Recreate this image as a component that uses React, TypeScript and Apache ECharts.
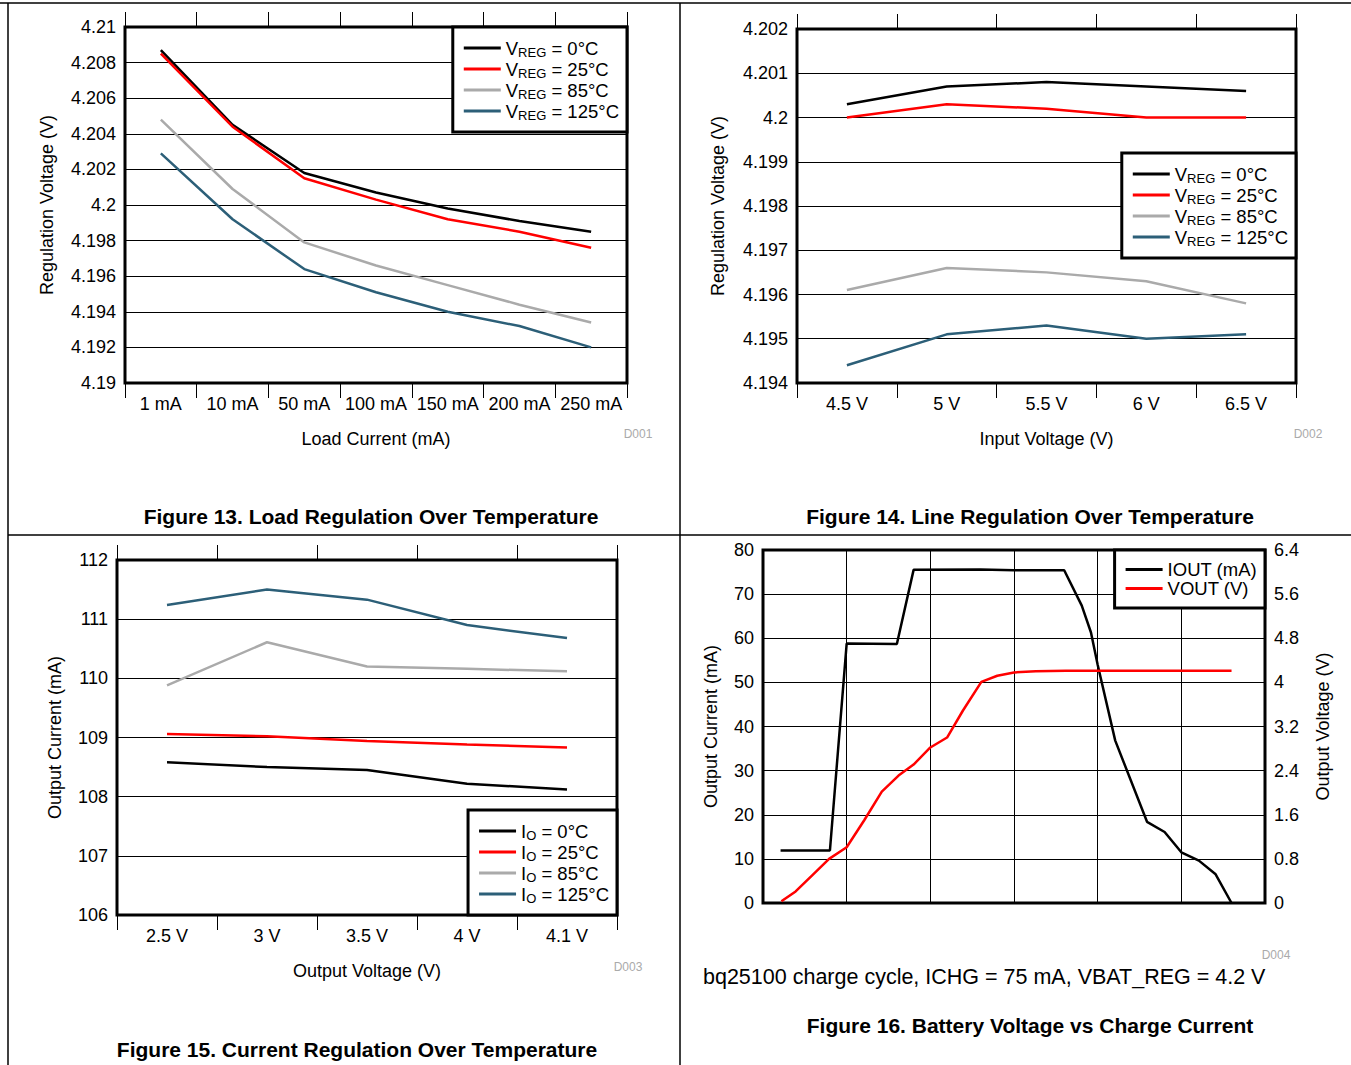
import React, { useEffect, useRef } from 'react';
import * as echarts from 'echarts';

const FONT = '"Liberation Sans", Arial, Helvetica, sans-serif';

// Figure 13
const loadCurrents = ['1 mA', '10 mA', '50 mA', '100 mA', '150 mA', '200 mA', '250 mA'];
const load0 = [4.2087, 4.2045, 4.2018, 4.2007, 4.1998, 4.1991, 4.1985];
const load25 = [4.2085, 4.2044, 4.2015, 4.2003, 4.1992, 4.1985, 4.1976];
const load85 = [4.2048, 4.2009, 4.1979, 4.1966, 4.1955, 4.1944, 4.1934];
const load125 = [4.2029, 4.1992, 4.1964, 4.1951, 4.1940, 4.1932, 4.1920];

// Figure 14
const inputVoltages = ['4.5 V', '5 V', '5.5 V', '6 V', '6.5 V'];
const line0 = [4.2003, 4.2007, 4.2008, 4.2007, 4.2006];
const line25 = [4.2, 4.2003, 4.2002, 4.2, 4.2];
const line85 = [4.1961, 4.1966, 4.1965, 4.1963, 4.1958];
const line125 = [4.1944, 4.1951, 4.1953, 4.195, 4.1951];

// Figure 15
const outputVoltages = ['2.5 V', '3 V', '3.5 V', '4 V', '4.1 V'];
const cur0 = [108.58, 108.5, 108.45, 108.22, 108.12];
const cur25 = [109.06, 109.02, 108.94, 108.88, 108.83];
const cur85 = [109.88, 110.61, 110.2, 110.16, 110.12];
const cur125 = [111.24, 111.5, 111.33, 110.9, 110.68];

// Figure 16 (x in grid units, IOUT in mA, VOUT in V)
const ioutPoints = [
  [0.21, 11.9], [0.8, 11.9], [1.0, 58.8], [1.6, 58.7], [1.8, 75.5], [2.6, 75.6], [3.0, 75.4],
  [3.6, 75.4], [3.81, 67.4], [3.92, 61.3], [4.0, 54], [4.21, 36.8], [4.59, 18.4], [4.8, 16.1],
  [5.0, 11.5], [5.21, 9.6], [5.41, 6.5], [5.6, 0],
];
const voutPoints = [
  [0.22, 0.03], [0.39, 0.21], [0.6, 0.52], [0.79, 0.8], [1.0, 1.01], [1.21, 1.5], [1.42, 2.02],
  [1.62, 2.31], [1.8, 2.51], [2.0, 2.82], [2.2, 3.0], [2.39, 3.49], [2.61, 4.01], [2.8, 4.12],
  [3.0, 4.18], [3.26, 4.2], [3.62, 4.21], [5.6, 4.21],
];

const vregNames = ['VREG = 0°C', 'VREG = 25°C', 'VREG = 85°C', 'VREG = 125°C'];
const ioNames = ['IO = 0°C', 'IO = 25°C', 'IO = 85°C', 'IO = 125°C'];
const chargeNames = ['IOUT (mA)', 'VOUT (V)'];

const BLACK = '#000000';
const RED = '#ff0000';
const GRAY = '#aaaaaa';
const BLUE = '#2c5f78';
const tempColors = [BLACK, RED, GRAY, BLUE];

const LABEL_SIZE = 18;

function fmtLegend(name: string) {
  const m = name.match(/^(V|I)(REG|O) (.*)$/);
  if (m) return `{n|${m[1]}}{s|${m[2]}}{n| ${m[3]}}`;
  return `{n|${name}}`;
}

function legendCfg(names: string[], right: number, top: number, padV: number) {
  return {
    data: names,
    orient: 'vertical',
    right,
    top,
    icon: 'rect',
    itemWidth: 37,
    itemHeight: 3,
    itemGap: 0,
    padding: [padV, 8, padV, 11],
    backgroundColor: '#ffffff',
    borderColor: '#000000',
    borderWidth: 3,
    borderRadius: 0,
    selectedMode: false,
    formatter: fmtLegend,
    textStyle: {
      rich: {
        n: { fontSize: 18.5, lineHeight: 21, fontFamily: FONT, color: '#000' },
        s: { fontSize: 13, lineHeight: 13, padding: [8, 0, 0, 0], fontFamily: FONT, color: '#000' },
      },
    },
  };
}

function catAxis(gridIndex: number, data: string[], position: 'top' | 'bottom', name?: string, nameGap?: number) {
  return {
    type: 'category',
    gridIndex,
    data,
    position,
    boundaryGap: true,
    axisLine: { show: false },
    axisTick: { show: true, length: 15, interval: 0, inside: false, lineStyle: { color: '#000', width: 1 } },
    axisLabel: {
      show: position === 'bottom',
      interval: 0,
      margin: 12,
      fontSize: LABEL_SIZE,
      color: '#000',
      fontFamily: FONT,
    },
    splitLine: { show: false },
    name: name || '',
    nameLocation: 'middle',
    nameGap: nameGap || 0,
    nameTextStyle: { fontSize: LABEL_SIZE, color: '#000', fontFamily: FONT },
  };
}

function valAxisY(gridIndex: number, min: number, max: number, interval: number, name: string, nameGap: number, position: 'left' | 'right' = 'left', split = true) {
  return {
    type: 'value',
    gridIndex,
    position,
    min,
    max,
    interval,
    axisLine: { show: false },
    axisTick: { show: false },
    axisLabel: { margin: 9, fontSize: LABEL_SIZE, color: '#000', fontFamily: FONT },
    splitLine: { show: split, lineStyle: { color: '#000', width: 1 } },
    name,
    nameLocation: 'middle',
    nameRotate: 90,
    nameGap,
    nameTextStyle: { fontSize: LABEL_SIZE, color: '#000', fontFamily: FONT },
  };
}

function lineSeries(name: string, data: any[], color: string, xAxisIndex: number, yAxisIndex: number) {
  return {
    type: 'line',
    name,
    data,
    xAxisIndex,
    yAxisIndex,
    symbol: 'none',
    showSymbol: false,
    smooth: false,
    color,
    lineStyle: { color, width: 2.5 },
    z: 3,
  };
}

function textEl(text: string, x: number, y: number, size: number, opts: any = {}) {
  const align = opts.align || 'center';
  return {
    type: 'text',
    x,
    y,
    z: 10,
    style: {
      text,
      fontSize: size,
      fontFamily: FONT,
      fontWeight: opts.bold ? 'bold' : 'normal',
      fill: opts.color || '#000',
      align,
      textAlign: align,
      verticalAlign: 'middle',
      textVerticalAlign: 'middle',
    },
  };
}

function lineEl(x1: number, y1: number, x2: number, y2: number) {
  return {
    type: 'line',
    z: 10,
    shape: { x1, y1, x2, y2 },
    style: { stroke: '#000', lineWidth: 1.5 },
  };
}

export default function App() {
  const ref = useRef<HTMLDivElement>(null);

  useEffect(() => {
    if (!ref.current) return;
    const chart = echarts.init(ref.current, undefined, { renderer: 'svg' });

    const gridBase = { show: true, borderColor: '#000', borderWidth: 3, backgroundColor: 'transparent', containLabel: false };

    const option: any = {
      animation: false,
      backgroundColor: '#ffffff',
      textStyle: { fontFamily: FONT },
      grid: [
        { ...gridBase, left: 125, top: 27, width: 502, height: 356 },
        { ...gridBase, left: 797, top: 29, width: 499, height: 354 },
        { ...gridBase, left: 117, top: 560, width: 500, height: 355 },
        { ...gridBase, left: 763, top: 550, width: 502, height: 353 },
      ],
      xAxis: [
        catAxis(0, loadCurrents, 'bottom', 'Load Current (mA)', 47),
        catAxis(0, loadCurrents, 'top'),
        catAxis(1, inputVoltages, 'bottom', 'Input Voltage (V)', 47),
        catAxis(1, inputVoltages, 'top'),
        catAxis(2, outputVoltages, 'bottom', 'Output Voltage (V)', 47),
        catAxis(2, outputVoltages, 'top'),
        {
          type: 'value',
          gridIndex: 3,
          min: 0,
          max: 6,
          interval: 1,
          axisLine: { show: false },
          axisTick: { show: false },
          axisLabel: { show: false },
          splitLine: { show: true, lineStyle: { color: '#000', width: 1 } },
        },
      ],
      yAxis: [
        valAxisY(0, 4.19, 4.21, 0.002, 'Regulation Voltage (V)', 69),
        valAxisY(1, 4.194, 4.202, 0.001, 'Regulation Voltage (V)', 70),
        valAxisY(2, 106, 112, 1, 'Output Current (mA)', 53),
        valAxisY(3, 0, 80, 10, 'Output Current (mA)', 43),
        valAxisY(3, 0, 6.4, 0.8, 'Output Voltage (V)', 49, 'right', false),
      ],
      legend: [
        legendCfg(vregNames, 1351 - 627, 27, 10.5),
        legendCfg(vregNames, 1351 - 1296, 153, 10.5),
        legendCfg(ioNames, 1351 - 617, 810, 10.5),
        legendCfg(chargeNames, 1351 - 1265, 550, 10),
      ],
      series: [
        lineSeries(vregNames[0], load0, tempColors[0], 0, 0),
        lineSeries(vregNames[1], load25, tempColors[1], 0, 0),
        lineSeries(vregNames[2], load85, tempColors[2], 0, 0),
        lineSeries(vregNames[3], load125, tempColors[3], 0, 0),
        lineSeries(vregNames[0], line0, tempColors[0], 2, 1),
        lineSeries(vregNames[1], line25, tempColors[1], 2, 1),
        lineSeries(vregNames[2], line85, tempColors[2], 2, 1),
        lineSeries(vregNames[3], line125, tempColors[3], 2, 1),
        lineSeries(ioNames[0], cur0, tempColors[0], 4, 2),
        lineSeries(ioNames[1], cur25, tempColors[1], 4, 2),
        lineSeries(ioNames[2], cur85, tempColors[2], 4, 2),
        lineSeries(ioNames[3], cur125, tempColors[3], 4, 2),
        lineSeries(chargeNames[0], ioutPoints, BLACK, 6, 3),
        lineSeries(chargeNames[1], voutPoints, RED, 6, 4),
      ],
      graphic: [
        lineEl(0, 3, 1351, 3),
        lineEl(8, 3, 8, 1065),
        lineEl(680, 3, 680, 1065),
        lineEl(8, 535, 1351, 535),
        textEl('D001', 638, 434, 12, { color: '#aaaaaa' }),
        textEl('D002', 1308, 434, 12, { color: '#aaaaaa' }),
        textEl('D003', 628, 967, 12, { color: '#aaaaaa' }),
        textEl('D004', 1276, 955, 12, { color: '#aaaaaa' }),
        textEl('Figure 13. Load Regulation Over Temperature', 371, 516, 21, { bold: true }),
        textEl('Figure 14. Line Regulation Over Temperature', 1030, 516, 21, { bold: true }),
        textEl('Figure 15. Current Regulation Over Temperature', 357, 1049, 21, { bold: true }),
        textEl('Figure 16. Battery Voltage vs Charge Current', 1030, 1025, 21, { bold: true }),
        textEl('bq25100 charge cycle, ICHG = 75 mA, VBAT_REG = 4.2 V', 703, 977, 21.5, { align: 'left' }),
      ],
    };

    chart.setOption(option);
    return () => chart.dispose();
  }, []);

  return (
    <div
      ref={ref}
      style={{ position: 'absolute', left: 0, top: 0, width: 1351, height: 1065, background: '#fff' }}
    />
  );
}
